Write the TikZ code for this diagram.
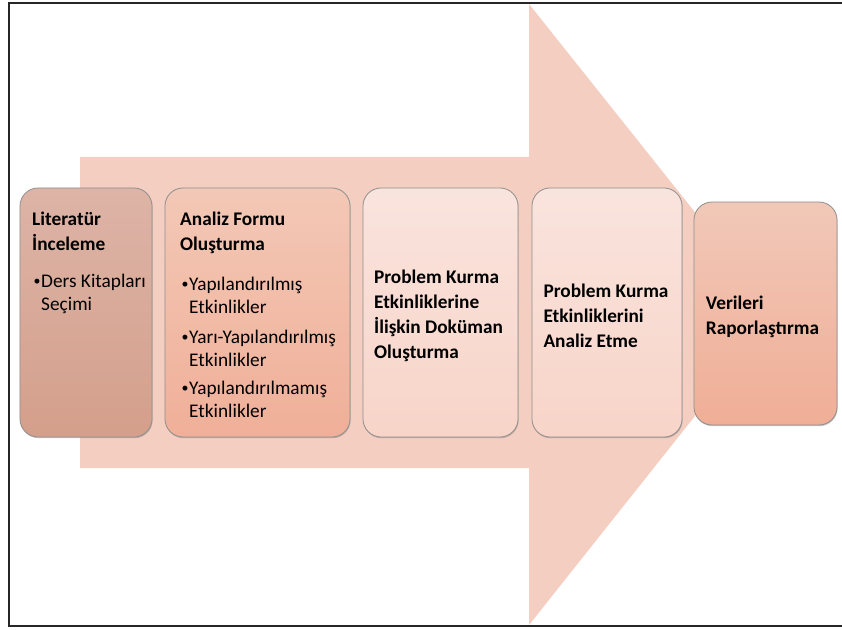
\documentclass[tikz,border=0pt]{standalone}
\usepackage{fontspec}
\setmainfont{Carlito}
\usetikzlibrary{shadows}

\definecolor{arrowfill}{HTML}{F4CEC0}
\definecolor{boxline}{HTML}{8F8F8F}
\definecolor{litTop}{HTML}{DDB4A7}
\definecolor{litBot}{HTML}{D49F8B}
\definecolor{formTop}{HTML}{F3C8B6}
\definecolor{formBot}{HTML}{F0AF98}
\definecolor{paleTop}{HTML}{F9E4DD}
\definecolor{paleBot}{HTML}{F8D4C8}
\definecolor{repTop}{HTML}{F1C8B8}
\definecolor{repBot}{HTML}{F0AE96}

\newcommand{\bulletline}{\makebox[9bp][r]{\raisebox{1.4bp}{\scalebox{0.72}{\textbullet}}\hspace{0.6bp}}}
\newcommand{\hangline}{\hspace*{9bp}}

\tikzset{
  stagebox/.style={draw=boxline, line width=0.8bp, rounded corners=18bp,
    inner sep=0pt,
    drop shadow={shadow xshift=0.6bp, shadow yshift=-1.2bp, opacity=0.35, fill=black!60}},
  boxtext/.style={inner sep=0pt, align=left,
    font=\fontsize{19.3bp}{23bp}\selectfont\bfseries},
  stagetext/.style={anchor=north west, inner sep=0pt, align=left,
    font=\fontsize{19.3bp}{23.5bp}\selectfont},
}

\begin{document}
\begin{tikzpicture}[x=1bp, y=-1bp]
  \useasboundingbox (0,0) rectangle (842,630);
  \fill[white] (0,0) rectangle (842,630);

  % frame lines
  \draw[line width=1.6bp, black!85] (842,3) -- (9,3) -- (9,626) -- (842,626);

  % large background arrow
  \fill[arrowfill] (80,157) -- (529,157) -- (529,4) -- (776,314)
    -- (529,625) -- (529,468) -- (80,468) -- cycle;

  % stage boxes
  \node[stagebox, top color=litTop, bottom color=litBot,
        minimum width=132bp, minimum height=249bp] (lit) at (86,312.5) {};
  \node[stagebox, top color=formTop, bottom color=formBot,
        minimum width=185bp, minimum height=249bp] (form) at (257.5,312.5) {};
  \node[stagebox, top color=paleTop, bottom color=paleBot,
        minimum width=155bp, minimum height=249bp] (doc) at (440.5,312.5) {};
  \node[stagebox, top color=paleTop, bottom color=paleBot,
        minimum width=150bp, minimum height=249bp] (ana) at (607,312.5) {};
  \node[stagebox, top color=repTop, bottom color=repBot,
        minimum width=143bp, minimum height=223bp] (rep) at (765.5,313.5) {};

  % texts of the last three stages
  \node[boxtext] (doctext) at ([xshift=-2bp, yshift=-3bp]doc.center)
    {Problem Kurma\\[2bp]Etkinliklerine\\[2bp]İlişkin Doküman\\[2bp]Oluşturma};
  \node[boxtext] (anatext) at ([xshift=-1bp, yshift=-3bp]ana.center)
    {Problem Kurma\\[2bp]Etkinliklerini\\[2bp]Analiz Etme};
  \node[boxtext] (reptext) at ([xshift=-3bp, yshift=-3bp]rep.center)
    {Verileri\\[2bp]Raporlaştırma};

  % texts of the first two stages
  \node[stagetext] (littext) at (32,212)
    {{\bfseries Literatür}\\[1.5bp]{\bfseries İnceleme}\\[13bp]
     \bulletline Ders Kitapları\\\hangline Seçimi};
  \node[stagetext] (formtext) at (180,212)
    {{\bfseries Analiz Formu}\\[1.5bp]{\bfseries Oluşturma}\\[16bp]
     \bulletline Yapılandırılmış\\\hangline Etkinlikler\\[6bp]
     \bulletline Yarı-Yapılandırılmış\\\hangline Etkinlikler\\[4bp]
     \bulletline Yapılandırılmamış\\\hangline Etkinlikler};
\end{tikzpicture}
\end{document}
